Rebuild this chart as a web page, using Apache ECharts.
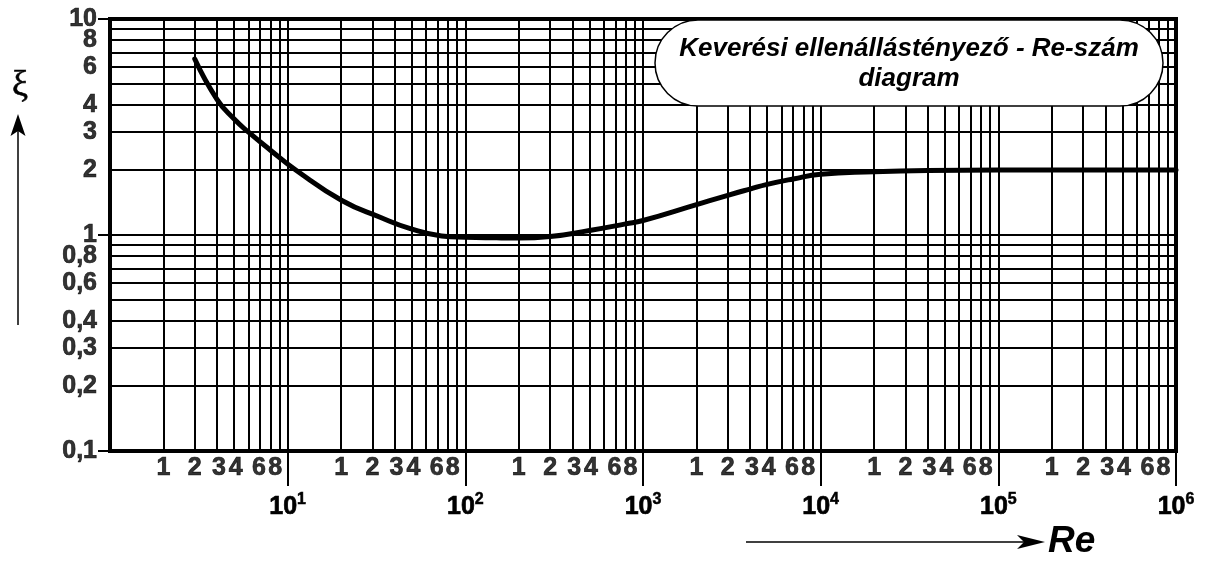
<!DOCTYPE html>
<html><head><meta charset="utf-8">
<script src="https://cdn.jsdelivr.net/npm/echarts@6/dist/echarts.min.js"></script>
<style>html,body{margin:0;padding:0;background:#fff}#c{width:1210px;height:562px}</style>
</head><body><div id="c"></div>
<script>
// Curve: Reynolds number vs mixing resistance coefficient
const reValues = [3.0, 4.0, 5.0, 6.0, 8.0, 11.1, 20.3, 33.4, 49, 73.6, 100, 150, 200, 300, 500, 800, 1000, 2000, 3000, 4000, 5000, 7000, 10000, 20000, 40000, 100000, 1000000];
const xiValues = [6.53, 4.25, 3.44, 3.0, 2.47, 2.0, 1.44, 1.205, 1.07, 0.99, 0.976, 0.97, 0.968, 0.984, 1.049, 1.126, 1.167, 1.383, 1.527, 1.632, 1.715, 1.817, 1.913, 1.963, 1.99, 2.0, 2.0];

// Axis decades and sub-decade grid multipliers
const xDecades = [1, 10, 100, 1000, 10000, 100000];
const xDecadeTicks = [10, 100, 1000, 10000, 100000, 1000000];
const yDecades = [0.1, 1];
const gridMultipliers = [2, 3, 4, 5, 6, 7, 8, 9];

// Sub-decade labels under the x axis (as printed in the original)
const xSubLabels = ['1', '2', '3', '4', '6', '8'];
const xSubLabelAt = [2, 3, 4.1, 5.1, 6.9, 8.5];

// y tick labels
const yTickValues = [10, 8, 6, 4, 3, 2, 1, 0.8, 0.6, 0.4, 0.3, 0.2, 0.1];
const yTickLabels = ['10', '8', '6', '4', '3', '2', '1', '0,8', '0,6', '0,4', '0,3', '0,2', '0,1'];

const titleText = 'Keverési ellenállástényező - Re-szám\ndiagram';

const FONT = '"Liberation Sans", Arial, sans-serif';

const xGrid = [];
xDecades.forEach(d => gridMultipliers.forEach(m => xGrid.push(m * d)));
xDecadeTicks.slice(0, -1).forEach(v => xGrid.push(v));
const yGrid = [];
yDecades.forEach(d => gridMultipliers.forEach(m => yGrid.push(m * d)));
yGrid.push(1);

const xSubData = [];
xDecades.forEach(d => xSubLabelAt.forEach((m, i) => xSubData.push({ name: xSubLabels[i], value: [m * d, 0.1] })));
const yLabelData = yTickValues.map((v, i) => ({ name: yTickLabels[i], value: [1, v] }));

const labelStyle = { fontFamily: FONT, fontWeight: 'bold', fontSize: 25, color: '#000', textBorderColor: '#000', textBorderWidth: 0.7 };

const chart = echarts.init(document.getElementById('c'), null, { renderer: 'canvas' });
chart.setOption({
  animation: false,
  backgroundColor: '#fff',
  grid: { left: 110, right: 34, top: 19, bottom: 111, show: true, borderColor: '#000', borderWidth: 4, backgroundColor: 'transparent' },
  xAxis: {
    type: 'log', logBase: 10, min: 1, max: 1000000,
    axisLine: { show: false },
    splitLine: { show: false },
    axisTick: { show: true, length: 35, lineStyle: { color: '#000', width: 2 }, customValues: xDecadeTicks },
    axisLabel: {
      margin: 41,
      customValues: xDecadeTicks,
      formatter: function (v) {
        const e = Math.round(Math.log10(v));
        if (e <= 0) return '';
        return '{b|10}{s|' + e + '}';
      },
      rich: {
        b: Object.assign({}, labelStyle, { lineHeight: 28, verticalAlign: 'bottom' }),
        s: Object.assign({}, labelStyle, { fontSize: 16, textBorderWidth: 0.5, lineHeight: 28, verticalAlign: 'top' })
      }
    }
  },
  yAxis: {
    type: 'log', logBase: 10, min: 0.1, max: 10,
    axisLine: { show: false },
    splitLine: { show: false },
    axisTick: { show: true, length: 12, lineStyle: { color: '#000', width: 2 } },
    axisLabel: { show: false }
  },
  series: [
    {
      name: 'grid', type: 'line', data: [], z: 1, silent: true,
      markLine: {
        z: 1, silent: true, symbol: ['none', 'none'], animation: false,
        label: { show: false },
        lineStyle: { color: '#000', width: 2, type: 'solid' },
        emphasis: { disabled: true },
        data: xGrid.map(v => ({ xAxis: v })).concat(yGrid.map(v => ({ yAxis: v })))
      }
    },
    {
      name: 'xi', type: 'line', z: 3, smooth: 0.5, symbol: 'none', showSymbol: false,
      lineStyle: { color: '#000', width: 5, cap: 'round', join: 'round' },
      data: reValues.map((r, i) => [r, xiValues[i]])
    },
    {
      name: 'xSub', type: 'scatter', symbolSize: 0, clip: false, silent: true, z: 4,
      label: Object.assign({ show: true, position: 'bottom', distance: 5, formatter: '{b}' }, labelStyle),
      data: xSubData
    },
    {
      name: 'yLab', type: 'scatter', symbolSize: 0, clip: false, silent: true, z: 4,
      label: Object.assign({ show: true, position: 'left', distance: 13, formatter: '{b}' }, labelStyle),
      data: yLabelData
    }
  ],
  graphic: [
    { type: 'rect', z: 100, shape: { x: 655, y: 20, width: 508, height: 86, r: 43 }, style: { fill: '#fff', stroke: '#000', lineWidth: 1.5 } },
    { type: 'text', z: 101, x: 909, y: 64, style: { text: titleText, font: 'italic bold 26px ' + FONT, fill: '#000', align: 'center', verticalAlign: 'middle', textAlign: 'center', textVerticalAlign: 'middle', lineHeight: 30 } },
    { type: 'text', z: 101, x: 20, y: 86, style: { text: 'ξ', font: '36px "Liberation Serif", serif', fill: '#000', align: 'center', verticalAlign: 'middle', textAlign: 'center', textVerticalAlign: 'middle', stroke: '#000', lineWidth: 0.6 } },
    { type: 'line', z: 101, shape: { x1: 18, y1: 325, x2: 18, y2: 128 }, style: { stroke: '#000', lineWidth: 1.5 } },
    { type: 'polygon', z: 101, shape: { points: [[18, 114], [25.5, 136], [18, 131], [10.5, 136]] }, style: { fill: '#000' } },
    { type: 'line', z: 101, shape: { x1: 746, y1: 542, x2: 1030, y2: 542 }, style: { stroke: '#000', lineWidth: 1.5 } },
    { type: 'polygon', z: 101, shape: { points: [[1045, 542], [1017, 535], [1024, 542], [1017, 549]] }, style: { fill: '#000' } },
    { type: 'text', z: 101, x: 1048, y: 542, style: { text: 'Re', font: 'italic bold 37px ' + FONT, fill: '#000', align: 'left', verticalAlign: 'middle', textAlign: 'left', textVerticalAlign: 'middle' } }
  ]
});
</script>
</body></html>
